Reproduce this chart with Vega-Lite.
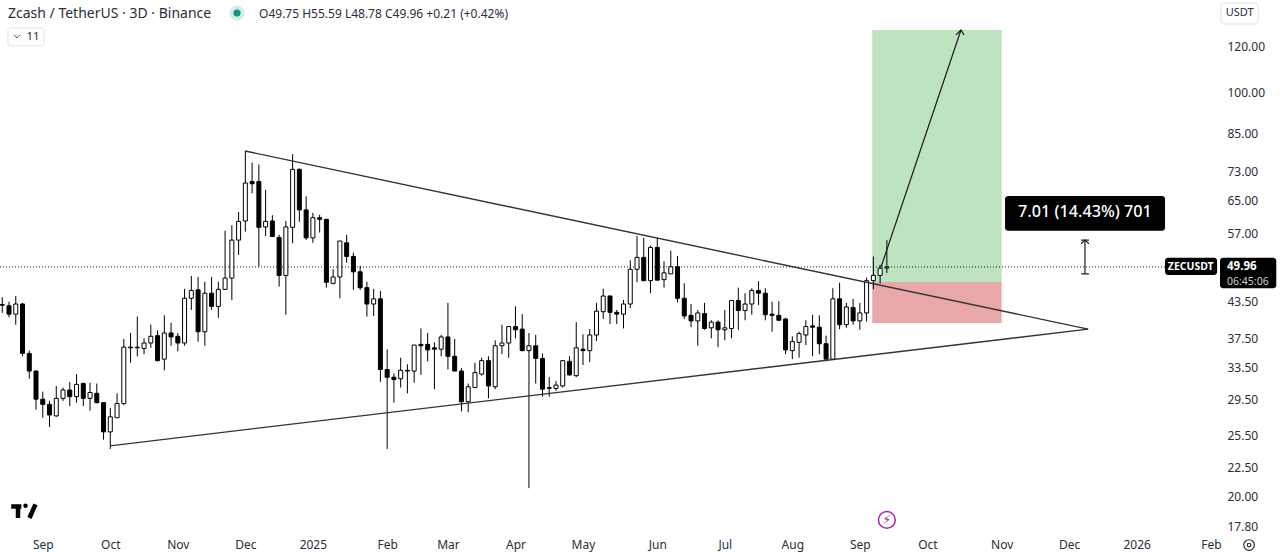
{"$schema":"https://vega.github.io/schema/vega-lite/v6.json","width":1220,"height":530,"autosize":"none","padding":{"left":0,"top":0,"right":60,"bottom":28},"background":"white","config":{"view":{"stroke":null},"font":"Noto Sans"},
"datasets":{
"candles":[
{"d":"2024-08-14","o":43.0,"h":44.3,"l":41.6,"c":42.9},{"d":"2024-08-17","o":42.8,"h":43.5,"l":40.9,"c":41.4},{"d":"2024-08-20","o":41.4,"h":44.5,"l":39.7,"c":43.1},{"d":"2024-08-23","o":43.1,"h":43.3,"l":35.0,"c":35.4},{"d":"2024-08-26","o":35.4,"h":35.8,"l":32.0,"c":33.0},{"d":"2024-08-29","o":33.0,"h":33.1,"l":28.3,"c":29.5},{"d":"2024-09-01","o":29.5,"h":30.4,"l":27.4,"c":28.9},{"d":"2024-09-04","o":28.9,"h":29.3,"l":26.4,"c":27.7},{"d":"2024-09-07","o":27.6,"h":31.1,"l":27.5,"c":29.6},{"d":"2024-09-10","o":29.6,"h":30.9,"l":29.3,"c":30.6},{"d":"2024-09-13","o":30.6,"h":31.6,"l":28.7,"c":29.8},{"d":"2024-09-16","o":29.8,"h":32.6,"l":29.1,"c":31.3},{"d":"2024-09-19","o":31.4,"h":31.5,"l":28.7,"c":29.6},{"d":"2024-09-22","o":29.6,"h":31.5,"l":28.2,"c":30.3},{"d":"2024-09-25","o":30.2,"h":31.4,"l":29.0,"c":29.1},{"d":"2024-09-28","o":29.1,"h":29.1,"l":25.1,"c":25.9},{"d":"2024-10-01","o":25.9,"h":28.5,"l":24.2,"c":27.5},{"d":"2024-10-04","o":27.4,"h":30.2,"l":27.4,"c":29.0},{"d":"2024-10-07","o":29.0,"h":37.5,"l":28.8,"c":36.3},{"d":"2024-10-10","o":36.3,"h":38.4,"l":34.1,"c":36.2},{"d":"2024-10-13","o":36.2,"h":41.0,"l":35.0,"c":36.3},{"d":"2024-10-16","o":36.1,"h":37.6,"l":35.3,"c":36.9},{"d":"2024-10-19","o":36.9,"h":39.7,"l":36.2,"c":37.9},{"d":"2024-10-22","o":38.0,"h":38.8,"l":34.3,"c":34.4},{"d":"2024-10-25","o":34.6,"h":41.2,"l":33.1,"c":38.4},{"d":"2024-10-28","o":38.4,"h":40.0,"l":36.5,"c":37.8},{"d":"2024-10-31","o":37.9,"h":38.4,"l":35.7,"c":36.9},{"d":"2024-11-03","o":36.9,"h":45.8,"l":36.5,"c":44.1},{"d":"2024-11-06","o":44.1,"h":48.2,"l":42.1,"c":45.5},{"d":"2024-11-09","o":45.6,"h":48.0,"l":37.1,"c":38.6},{"d":"2024-11-12","o":38.6,"h":47.1,"l":36.5,"c":45.0},{"d":"2024-11-15","o":45.0,"h":48.0,"l":42.1,"c":42.7},{"d":"2024-11-18","o":42.7,"h":47.1,"l":40.8,"c":45.7},{"d":"2024-11-21","o":45.7,"h":57.7,"l":45.7,"c":47.8},{"d":"2024-11-24","o":47.8,"h":59.0,"l":43.8,"c":55.6},{"d":"2024-11-27","o":55.6,"h":62.2,"l":52.4,"c":59.9},{"d":"2024-11-30","o":60.0,"h":79.3,"l":57.5,"c":69.8},{"d":"2024-12-03","o":70.2,"h":75.7,"l":67.0,"c":69.6},{"d":"2024-12-06","o":70.2,"h":75.2,"l":50.0,"c":58.5},{"d":"2024-12-09","o":58.6,"h":67.9,"l":56.5,"c":59.9},{"d":"2024-12-12","o":60.0,"h":61.4,"l":56.3,"c":56.4},{"d":"2024-12-15","o":56.2,"h":56.8,"l":46.2,"c":48.3},{"d":"2024-12-18","o":48.3,"h":60.0,"l":41.3,"c":58.6},{"d":"2024-12-21","o":58.5,"h":78.3,"l":54.9,"c":73.7},{"d":"2024-12-24","o":73.7,"h":74.0,"l":59.8,"c":62.7},{"d":"2024-12-27","o":62.7,"h":66.2,"l":55.6,"c":56.1},{"d":"2024-12-30","o":56.1,"h":62.0,"l":55.0,"c":60.8},{"d":"2025-01-02","o":60.8,"h":61.5,"l":57.3,"c":60.4},{"d":"2025-01-05","o":60.4,"h":60.4,"l":46.0,"c":47.0},{"d":"2025-01-08","o":46.8,"h":49.5,"l":46.6,"c":48.0},{"d":"2025-01-11","o":48.0,"h":55.4,"l":44.1,"c":55.4},{"d":"2025-01-14","o":55.0,"h":56.8,"l":50.8,"c":52.1},{"d":"2025-01-17","o":52.1,"h":52.9,"l":45.6,"c":49.0},{"d":"2025-01-20","o":49.0,"h":50.2,"l":45.6,"c":46.0},{"d":"2025-01-23","o":46.0,"h":47.1,"l":41.0,"c":43.1},{"d":"2025-01-26","o":43.1,"h":45.8,"l":41.1,"c":44.0},{"d":"2025-01-29","o":44.0,"h":45.4,"l":31.6,"c":33.2},{"d":"2025-02-01","o":33.2,"h":36.0,"l":24.2,"c":32.2},{"d":"2025-02-04","o":32.2,"h":32.7,"l":29.1,"c":31.9},{"d":"2025-02-07","o":32.0,"h":34.8,"l":30.9,"c":33.1},{"d":"2025-02-10","o":33.0,"h":33.9,"l":30.2,"c":33.1},{"d":"2025-02-13","o":33.0,"h":36.6,"l":31.5,"c":36.6},{"d":"2025-02-16","o":36.7,"h":39.1,"l":32.5,"c":36.5},{"d":"2025-02-19","o":36.7,"h":38.4,"l":34.3,"c":35.9},{"d":"2025-02-22","o":36.2,"h":37.0,"l":30.7,"c":36.0},{"d":"2025-02-25","o":36.0,"h":38.1,"l":35.0,"c":37.8},{"d":"2025-02-28","o":37.8,"h":43.3,"l":33.2,"c":35.0},{"d":"2025-03-03","o":35.0,"h":37.5,"l":33.0,"c":33.0},{"d":"2025-03-06","o":33.0,"h":33.4,"l":28.1,"c":29.2},{"d":"2025-03-09","o":29.2,"h":31.4,"l":28.0,"c":31.0},{"d":"2025-03-12","o":30.9,"h":34.1,"l":30.9,"c":32.8},{"d":"2025-03-15","o":32.6,"h":34.8,"l":32.4,"c":34.4},{"d":"2025-03-18","o":34.4,"h":35.0,"l":29.6,"c":31.1},{"d":"2025-03-21","o":31.0,"h":37.3,"l":30.7,"c":36.5},{"d":"2025-03-24","o":36.5,"h":39.7,"l":35.3,"c":36.9},{"d":"2025-03-27","o":36.9,"h":39.5,"l":34.8,"c":39.4},{"d":"2025-03-30","o":39.4,"h":42.7,"l":37.6,"c":38.9},{"d":"2025-04-02","o":39.0,"h":41.4,"l":35.7,"c":35.8},{"d":"2025-04-05","o":35.8,"h":38.4,"l":20.7,"c":36.5},{"d":"2025-04-08","o":36.5,"h":38.1,"l":31.4,"c":34.7},{"d":"2025-04-11","o":34.7,"h":35.4,"l":29.8,"c":30.7},{"d":"2025-04-14","o":30.8,"h":32.2,"l":29.8,"c":30.9},{"d":"2025-04-17","o":30.8,"h":31.7,"l":30.5,"c":31.2},{"d":"2025-04-20","o":31.1,"h":34.5,"l":30.9,"c":34.4},{"d":"2025-04-23","o":34.3,"h":35.0,"l":32.4,"c":32.5},{"d":"2025-04-26","o":32.4,"h":40.1,"l":32.2,"c":36.2},{"d":"2025-04-29","o":36.0,"h":38.2,"l":33.8,"c":35.8},{"d":"2025-05-02","o":35.8,"h":39.0,"l":34.2,"c":38.1},{"d":"2025-05-05","o":38.1,"h":43.3,"l":37.2,"c":41.9},{"d":"2025-05-08","o":41.8,"h":45.8,"l":40.6,"c":44.5},{"d":"2025-05-11","o":44.5,"h":44.6,"l":39.8,"c":41.7},{"d":"2025-05-14","o":41.7,"h":42.1,"l":39.8,"c":41.4},{"d":"2025-05-17","o":41.4,"h":43.8,"l":39.1,"c":43.1},{"d":"2025-05-20","o":43.1,"h":51.3,"l":42.4,"c":49.5},{"d":"2025-05-23","o":49.5,"h":56.5,"l":47.0,"c":51.9},{"d":"2025-05-26","o":51.9,"h":56.1,"l":47.2,"c":47.3},{"d":"2025-05-29","o":47.3,"h":54.4,"l":45.0,"c":54.0},{"d":"2025-06-01","o":54.0,"h":56.1,"l":47.4,"c":47.4},{"d":"2025-06-04","o":47.5,"h":51.1,"l":46.0,"c":48.8},{"d":"2025-06-07","o":48.6,"h":53.3,"l":48.6,"c":50.0},{"d":"2025-06-10","o":50.0,"h":52.2,"l":43.4,"c":44.1},{"d":"2025-06-13","o":44.1,"h":46.8,"l":40.6,"c":41.1},{"d":"2025-06-16","o":41.2,"h":43.1,"l":39.3,"c":40.3},{"d":"2025-06-19","o":40.3,"h":42.1,"l":36.5,"c":41.6},{"d":"2025-06-22","o":41.5,"h":43.3,"l":38.9,"c":39.1},{"d":"2025-06-25","o":39.2,"h":40.4,"l":37.6,"c":40.1},{"d":"2025-06-28","o":40.1,"h":40.4,"l":36.3,"c":38.9},{"d":"2025-07-01","o":38.9,"h":42.1,"l":37.3,"c":39.2},{"d":"2025-07-04","o":39.1,"h":43.8,"l":37.6,"c":43.7},{"d":"2025-07-07","o":43.7,"h":46.0,"l":38.9,"c":42.0},{"d":"2025-07-10","o":42.0,"h":45.0,"l":40.4,"c":43.1},{"d":"2025-07-13","o":43.1,"h":45.9,"l":41.3,"c":45.5},{"d":"2025-07-16","o":45.5,"h":47.2,"l":42.9,"c":45.0},{"d":"2025-07-19","o":45.0,"h":45.9,"l":40.4,"c":41.3},{"d":"2025-07-22","o":41.4,"h":43.5,"l":38.6,"c":41.2},{"d":"2025-07-25","o":41.2,"h":43.6,"l":40.4,"c":40.4},{"d":"2025-07-28","o":40.6,"h":40.8,"l":35.3,"c":35.9},{"d":"2025-07-31","o":35.8,"h":37.9,"l":34.6,"c":37.1},{"d":"2025-08-03","o":37.0,"h":38.6,"l":34.8,"c":38.3},{"d":"2025-08-06","o":38.1,"h":40.4,"l":36.6,"c":39.4},{"d":"2025-08-09","o":39.5,"h":41.3,"l":35.0,"c":39.3},{"d":"2025-08-12","o":39.3,"h":41.2,"l":35.3,"c":36.8},{"d":"2025-08-15","o":36.8,"h":38.0,"l":34.6,"c":34.6},{"d":"2025-08-18","o":34.6,"h":45.9,"l":34.6,"c":44.0},{"d":"2025-08-21","o":44.0,"h":46.9,"l":39.0,"c":39.7},{"d":"2025-08-24","o":39.7,"h":43.3,"l":39.2,"c":42.6},{"d":"2025-08-27","o":42.5,"h":44.0,"l":39.7,"c":40.3},{"d":"2025-08-30","o":40.3,"h":43.3,"l":38.9,"c":41.6},{"d":"2025-09-02","o":41.6,"h":47.9,"l":40.2,"c":47.3},{"d":"2025-09-05","o":47.3,"h":52.1,"l":45.7,"c":48.3},{"d":"2025-09-08","o":48.3,"h":50.4,"l":46.8,"c":49.7},{"d":"2025-09-11","o":49.75,"h":55.59,"l":48.78,"c":49.96}],
"zones":[{"zone":"target","d":"2025-09-04T12:00:00Z","d2":"2025-11-01T00:00:00Z","p":128.4,"p2":47.06},{"zone":"stop","d":"2025-09-04T12:00:00Z","d2":"2025-11-01T00:00:00Z","p":47.06,"p2":39.96}],
"trend":[{"k":"upper","n":0,"d":"2024-11-29T20:00:00Z","p":79.3},{"k":"upper","n":1,"d":"2025-12-09T10:00:00Z","p":39.0},{"k":"lower","n":0,"d":"2024-09-30T21:00:00Z","p":24.5},{"k":"lower","n":1,"d":"2025-12-09T10:00:00Z","p":39.0}],
"arrows":[{"k":"a","n":0,"d":"2025-09-08T10:00:00Z","p":49.96},{"k":"a","n":1,"d":"2025-10-13T22:00:00Z","p":128.4},{"k":"b","n":0,"d":"2025-10-11T17:00:00Z","p":125.9},{"k":"b","n":1,"d":"2025-10-13T22:00:00Z","p":128.4},{"k":"b","n":2,"d":"2025-10-15T07:00:00Z","p":125.9},{"k":"m","n":0,"d":"2025-12-08T00:00:00Z","p":48.6},{"k":"m","n":1,"d":"2025-12-08T00:00:00Z","p":55.6},{"k":"c","n":0,"d":"2025-12-06T07:00:00Z","p":48.6},{"k":"c","n":1,"d":"2025-12-09T19:00:00Z","p":48.6},{"k":"t","n":0,"d":"2025-12-06T07:00:00Z","p":54.8},{"k":"t","n":1,"d":"2025-12-08T00:00:00Z","p":55.6},{"k":"t","n":2,"d":"2025-12-09T19:00:00Z","p":54.8},{"k":"u","n":0,"d":"2025-12-06T07:00:00Z","p":55.6},{"k":"u","n":1,"d":"2025-12-09T19:00:00Z","p":55.6}],
"chev":[{"n":0,"d":"2024-08-19T05:00:00Z","p":126.0},{"n":1,"d":"2024-08-20T13:00:00Z","p":124.4},{"n":2,"d":"2024-08-21T22:00:00Z","p":126.0}],
"logo":[{"k":"l1","n":0,"d":"2024-08-18T00:00:00Z","p":19.24},{"k":"l1","n":1,"d":"2024-08-22T12:00:00Z","p":19.24},{"k":"l2","n":0,"d":"2024-08-21T00:00:00Z","p":19.24},{"k":"l2","n":1,"d":"2024-08-21T00:00:00Z","p":18.38},{"k":"l3","n":0,"d":"2024-08-28T18:00:00Z","p":19.4},{"k":"l3","n":1,"d":"2024-08-26T02:00:00Z","p":18.38}],
"boxes":[{"b":"label","d":"2025-11-02T12:00:00Z","d2":"2026-01-12T14:00:00Z","p":66.3,"p2":57.7},{"b":"sym","d":"2026-01-12T14:00:00Z","d2":"2026-02-04T17:00:00Z","p":51.8,"p2":48.4},{"b":"price","d":"2026-02-06T00:00:00Z","d2":"2026-03-03T00:00:00Z","p":51.8,"p2":45.9}],
"chrome":[{"d":"2024-08-16T13:00:00Z","d2":"2024-09-01T13:00:00Z","p":129.5,"p2":120.5},{"d":"2026-02-06T10:00:00Z","d2":"2026-02-22T22:00:00Z","p":143,"p2":131.5}]
},
"encoding":{
"x":{"field":"d","type":"temporal","title":null,"scale":{"type":"utc","padding":0,"domain":["2024-08-13T00:00:00Z","2026-02-06T00:00:00Z"]},"axis":{"title":null,"grid":false,"domain":false,"ticks":false,"labelPadding":9,"labelFontSize":12,"labelColor":"#2a2e39","labelFont":"Noto Sans","labelFlush":false,"labelOverlap":false,"labelBound":false,"labelAlign":"center","values":["2024-09-01T00:00:00Z","2024-10-01T00:00:00Z","2024-10-31T00:00:00Z","2024-11-30T00:00:00Z","2024-12-30T00:00:00Z","2025-02-01T00:00:00Z","2025-02-28T00:00:00Z","2025-03-30T00:00:00Z","2025-04-29T00:00:00Z","2025-06-01T00:00:00Z","2025-07-01T00:00:00Z","2025-07-31T00:00:00Z","2025-08-30T00:00:00Z","2025-09-29T00:00:00Z","2025-11-01T00:00:00Z","2025-12-01T00:00:00Z","2025-12-31T00:00:00Z","2026-02-02T00:00:00Z"],"labelExpr":"utcmonth(time(datum.value)+4*864e5)==0 ? utcFormat(time(datum.value)+4*864e5,'%Y') : utcFormat(time(datum.value)+4*864e5,'%b')"}},
"y":{"field":"p","type":"quantitative","title":null,"scale":{"type":"log","domain":[17.52,144.7]},"axis":{"title":null,"orient":"right","grid":false,"domain":false,"ticks":false,"labelPadding":7,"labelFontSize":12,"labelColor":"#2a2e39","labelFont":"Noto Sans","labelOverlap":false,"labelBound":false,"format":".2f","values":[120,100,85,73,65,57,43.5,37.5,33.5,29.5,25.5,22.5,20,17.8]}}
},
"layer":[
{"data":{"name":"zones"},"mark":{"type":"rect"},"encoding":{"x2":{"field":"d2"},"y2":{"field":"p2"},"color":{"field":"zone","type":"nominal","legend":null,"scale":{"domain":["target","stop"],"range":["#bde3bf","#e8a8a8"]}}}},
{"data":{"values":[{"d":"2024-08-13T00:00:00Z","d2":"2026-01-12T14:00:00Z","p":49.96}]},"mark":{"type":"rule","color":"#131722","strokeWidth":1,"strokeDash":[1,2]},"encoding":{"x2":{"field":"d2"}}},
{"data":{"name":"candles"},"mark":{"type":"rule","color":"#000","strokeWidth":1},"encoding":{"y":{"field":"l","type":"quantitative","title":null,"scale":{"type":"log","domain":[17.52,144.7]}},"y2":{"field":"h"}}},
{"data":{"name":"candles"},"mark":{"type":"bar","width":4,"stroke":"#000","strokeWidth":1},"encoding":{"y":{"field":"o","type":"quantitative","title":null,"scale":{"type":"log","domain":[17.52,144.7]}},"y2":{"field":"c"},"fill":{"condition":{"test":"datum.c >= datum.o","value":"#ffffff"},"value":"#000000"}}},
{"data":{"name":"trend"},"mark":{"type":"line","color":"#333333","strokeWidth":1.4},"encoding":{"detail":{"field":"k"},"order":{"field":"n"}}},
{"data":{"name":"arrows"},"mark":{"type":"line","color":"#1a1a1a","strokeWidth":1.2},"encoding":{"detail":{"field":"k"},"order":{"field":"n"}}},
{"data":{"name":"logo"},"mark":{"type":"line","color":"#000","strokeWidth":4.5},"encoding":{"detail":{"field":"k"},"order":{"field":"n"}}},
{"data":{"values":[{"d":"2024-08-24T08:00:00Z","p":19.3}]},"mark":{"type":"point","filled":true,"color":"#000","size":20,"opacity":1}},
{"data":{"name":"boxes"},"mark":{"type":"rect","color":"#000","cornerRadius":3},"encoding":{"x2":{"field":"d2"},"y2":{"field":"p2"}}},
{"data":{"name":"chrome"},"mark":{"type":"rect","fill":"white","stroke":"#e0e3eb","strokeWidth":1,"cornerRadius":3},"encoding":{"x2":{"field":"d2"},"y2":{"field":"p2"}}},
{"data":{"values":[{"d":"2025-12-08T00:00:00Z","p":62.2,"t":"7.01 (14.43%) 701"}]},"mark":{"type":"text","color":"#fff","fontSize":16.2,"fontWeight":500,"font":"Noto Sans","align":"center","baseline":"middle"},"encoding":{"text":{"field":"t"}}},
{"data":{"values":[{"d":"2026-01-24T00:00:00Z","p":49.96,"t":"ZECUSDT"}]},"mark":{"type":"text","color":"#fff","fontSize":10.5,"fontWeight":"bold","font":"Noto Sans","align":"center","baseline":"middle"},"encoding":{"text":{"field":"t"}}},
{"data":{"values":[{"d":"2026-02-09T03:00:00Z","p":50.0,"t":"49.96"}]},"mark":{"type":"text","color":"#fff","fontSize":11.5,"fontWeight":"bold","font":"Noto Sans","align":"left","baseline":"middle"},"encoding":{"text":{"field":"t"}}},
{"data":{"values":[{"d":"2026-02-09T03:00:00Z","p":47.0,"t":"06:45:06"}]},"mark":{"type":"text","color":"#cfcfcf","fontSize":10.5,"font":"Noto Sans","align":"left","baseline":"middle"},"encoding":{"text":{"field":"t"}}},
{"data":{"values":[{"d":"2024-08-16T13:00:00Z","p":137.0,"t":"Zcash / TetherUS · 3D · Binance"}]},"mark":{"type":"text","color":"#2a2e39","fontSize":14,"font":"Noto Sans","align":"left","baseline":"middle"},"encoding":{"text":{"field":"t"}}},
{"data":{"values":[{"d":"2024-12-06T02:00:00Z","p":137.0,"t":"O49.75  H55.59  L48.78  C49.96  +0.21 (+0.42%)"}]},"mark":{"type":"text","color":"#2a2e39","fontSize":12,"font":"Noto Sans","align":"left","baseline":"middle"},"encoding":{"text":{"field":"t"}}},
{"data":{"values":[{"d":"2024-11-26T07:00:00Z","p":137.4}]},"mark":{"type":"point","filled":true,"color":"#cfeee8","size":220,"opacity":1}},
{"data":{"values":[{"d":"2024-11-26T07:00:00Z","p":137.4}]},"mark":{"type":"point","filled":true,"color":"#089981","size":50,"opacity":1}},
{"data":{"values":[{"d":"2024-08-27T16:00:00Z","p":124.9,"t":"11"}]},"mark":{"type":"text","color":"#2a2e39","fontSize":11.5,"font":"Noto Sans","align":"center","baseline":"middle"},"encoding":{"text":{"field":"t"}}},
{"data":{"name":"chev"},"mark":{"type":"line","color":"#555","strokeWidth":1},"encoding":{"order":{"field":"n"}}},
{"data":{"values":[{"d":"2026-02-14T17:00:00Z","p":137.4,"t":"USDT"}]},"mark":{"type":"text","color":"#2a2e39","fontSize":11,"font":"Noto Sans","align":"center","baseline":"middle"},"encoding":{"text":{"field":"t"}}},
{"data":{"values":[{"d":"2025-09-11T00:00:00Z","p":18.24}]},"mark":{"type":"point","filled":false,"color":"#9c27b0","size":283,"strokeWidth":1.5,"opacity":1}},
{"data":{"values":[{"d":"2025-09-11T00:00:00Z","p":18.24,"t":"⚡"}]},"mark":{"type":"text","color":"#9c27b0","fontSize":13,"font":"DejaVu Sans","align":"center","baseline":"middle"},"encoding":{"text":{"field":"t"}}},
{"data":{"values":[{"d":"2026-02-18T22:00:00Z","p":16.5}]},"mark":{"type":"point","filled":false,"color":"#2a2e39","size":113,"strokeWidth":1.2,"opacity":1}},
{"data":{"values":[{"d":"2026-02-18T22:00:00Z","p":16.5}]},"mark":{"type":"point","filled":false,"color":"#2a2e39","size":13,"strokeWidth":1.2,"opacity":1}}
]}
